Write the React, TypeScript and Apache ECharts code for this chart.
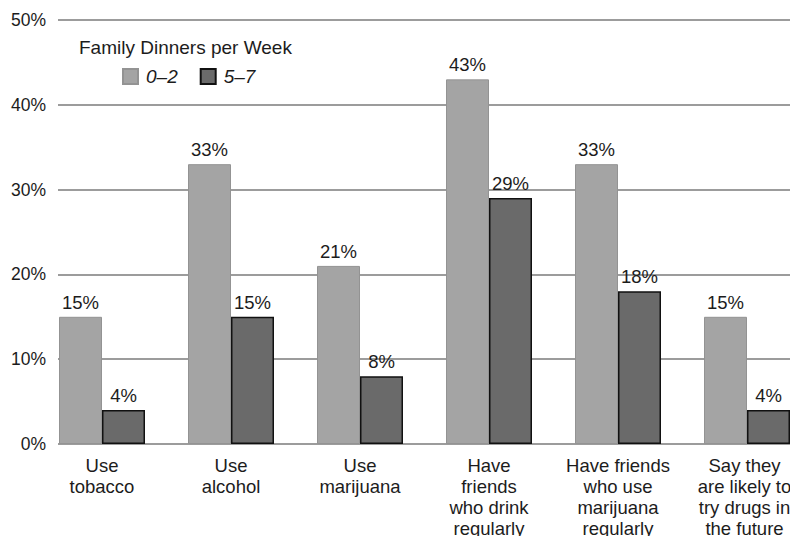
import React, { useEffect, useRef } from "react";
import * as echarts from "echarts";

const categories = [
  "Use\ntobacco",
  "Use\nalcohol",
  "Use\nmarijuana",
  "Have\nfriends\nwho drink\nregularly",
  "Have friends\nwho use\nmarijuana\nregularly",
  "Say they\nare likely to\ntry drugs in\nthe future",
];
const low = [15, 33, 21, 43, 33, 15];
const high = [4, 15, 8, 29, 18, 4];
const seriesNames = ["0–2", "5–7"];
const legendTitle = "Family Dinners per Week";

const FONT = "'Liberation Sans', Arial, Helvetica, sans-serif";
const TEXT = "#1c1c1c";
const CHART_W = 830;

export default function App() {
  const ref = useRef<HTMLDivElement>(null);
  useEffect(() => {
    if (!ref.current) return;
    const chart = echarts.init(ref.current, null, { renderer: "svg" });
    const labelCfg = {
      show: true,
      position: "top" as const,
      distance: 5,
      formatter: "{c}%",
      color: TEXT,
      fontSize: 18.5,
      fontFamily: FONT,
    };
    const catData = categories.map((c, i) =>
      i === categories.length - 1 ? { value: c, textStyle: { padding: [0, 5, 0, 0] } } : c
    );
    chart.setOption({
      animation: false,
      backgroundColor: "#ffffff",
      textStyle: { fontFamily: FONT, color: TEXT },
      title: {
        text: legendTitle,
        left: 74,
        top: 33,
        textStyle: { fontSize: 19, fontWeight: "normal", color: TEXT, fontFamily: FONT },
      },
      legend: {
        left: 117,
        top: 62,
        itemWidth: 15,
        itemHeight: 15,
        itemGap: 22,
        icon: "rect",
        data: seriesNames,
        textStyle: { fontSize: 19, fontStyle: "italic", color: TEXT, fontFamily: FONT, padding: [0, 0, 0, 3] },
      },
      grid: [
        { left: 58, right: CHART_W - 798, top: 20, bottom: 100 },
        { left: 37.5, width: 774, top: 20, bottom: 100 },
      ],
      xAxis: [
        { gridIndex: 0, type: "value", show: false, min: 0, max: 1 },
        {
          gridIndex: 1,
          type: "category",
          data: catData,
          axisLine: { show: false },
          axisTick: { show: false },
          axisLabel: {
            interval: 0,
            margin: 11,
            fontSize: 18.5,
            lineHeight: 21,
            color: TEXT,
            fontFamily: FONT,
            align: "center",
          },
        },
      ],
      yAxis: [
        {
          gridIndex: 0,
          type: "value",
          min: 0,
          max: 50,
          interval: 10,
          axisLine: { show: false },
          axisTick: { show: false },
          axisLabel: { formatter: "{value}%", fontSize: 17.5, color: TEXT, fontFamily: FONT, margin: 12 },
          splitLine: { show: true, lineStyle: { color: "#9c9c9c", width: 2 } },
        },
        {
          gridIndex: 1,
          type: "value",
          min: 0,
          max: 50,
          interval: 10,
          show: false,
          splitLine: { show: false },
        },
      ],
      series: [
        {
          name: seriesNames[0],
          type: "bar",
          xAxisIndex: 1,
          yAxisIndex: 1,
          data: low,
          barWidth: 43,
          barGap: "0%",
          itemStyle: { color: "#a4a4a4", borderColor: "#939393", borderWidth: 1 },
          label: labelCfg,
        },
        {
          name: seriesNames[1],
          type: "bar",
          xAxisIndex: 1,
          yAxisIndex: 1,
          data: high,
          barWidth: 43,
          barGap: "0%",
          itemStyle: { color: "#6a6a6a", borderColor: "#111111", borderWidth: 1.5 },
          label: labelCfg,
        },
      ],
    });
    return () => chart.dispose();
  }, []);
  return (
    <div style={{ width: 798, height: 544, margin: -8, overflow: "hidden", position: "relative" }}>
      <div ref={ref} style={{ width: CHART_W, height: 544 }} />
    </div>
  );
}
